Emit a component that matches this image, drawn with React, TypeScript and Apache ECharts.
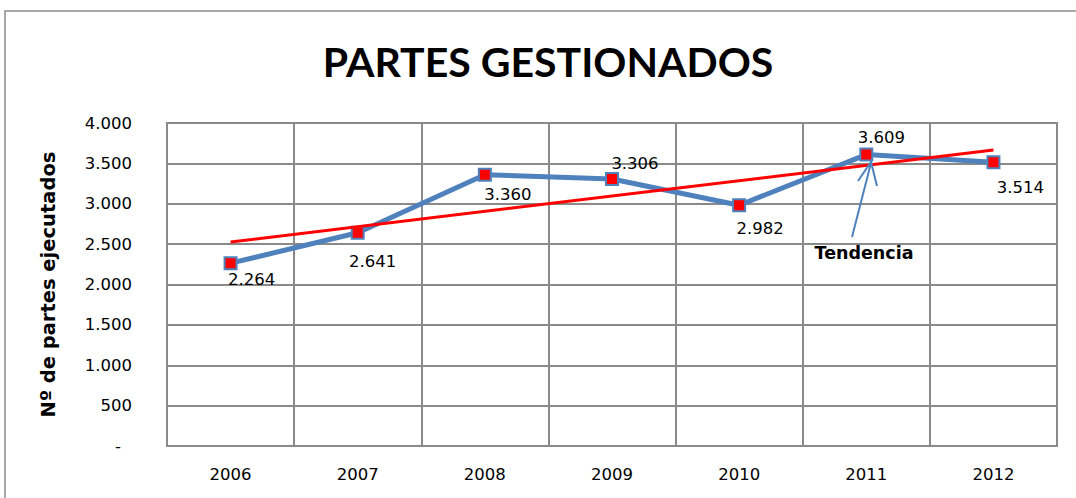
import React, { useEffect, useRef } from "react";
import * as echarts from "echarts";

const years = ["2006", "2007", "2008", "2009", "2010", "2011", "2012"];
const partes = [2264, 2641, 3360, 3306, 2982, 3609, 3514];
// trend line end points (2006 and 2012)
const trendValues = [2525, null, null, null, null, null, 3666];
const yTicks = [0, 500, 1000, 1500, 2000, 2500, 3000, 3500, 4000];
const titleText = "PARTES GESTIONADOS";
const yAxisName = "Nº de partes ejecutados";
const annotationText = "Tendencia";

// label offsets relative to the markers (style, not data)
const labelOffsets: [number, number][] = [
  [21, 16],
  [15, 29],
  [23, 20],
  [23, -16],
  [21, 23],
  [15, -17],
  [27, 25],
];

const fmt = (v: number) =>
  String(v).replace(/\B(?=(\d{3})+(?!\d))/g, ".");

const TITLE_FONT = "Lato, 'Open Sans', sans-serif";
const FONT = "'DejaVu Sans', sans-serif";
const GRID_COLOR = "#8A8A8A";
const BLUE = "#4F81BD";

export default function App() {
  const ref = useRef<HTMLDivElement>(null);

  useEffect(() => {
    if (!ref.current) return;
    const chart = echarts.init(ref.current, undefined, { renderer: "svg" });
    chart.setOption({
      animation: false,
      backgroundColor: "#ffffff",
      title: {
        text: titleText,
        left: 543,
        top: 36,
        textAlign: "center",
        textStyle: {
          fontFamily: TITLE_FONT,
          fontWeight: "bold",
          fontSize: 41,
          color: "#000",
        },
      },
      grid: {
        left: 167,
        top: 123,
        width: 890,
        height: 323,
        show: true,
        borderColor: GRID_COLOR,
        borderWidth: 2,
        backgroundColor: "transparent",
      },
      xAxis: {
        type: "category",
        data: years,
        boundaryGap: true,
        axisLine: { show: true, lineStyle: { color: GRID_COLOR, width: 2 } },
        axisTick: { show: false },
        splitLine: { show: true, lineStyle: { color: GRID_COLOR, width: 2 } },
        axisLabel: {
          margin: 20,
          color: "#000",
          fontFamily: FONT,
          fontSize: 16.5,
        },
      },
      yAxis: {
        type: "value",
        min: yTicks[0],
        max: yTicks[yTicks.length - 1],
        interval: yTicks[1] - yTicks[0],
        name: yAxisName,
        nameLocation: "middle",
        nameRotate: 90,
        nameGap: 109,
        nameTextStyle: {
          fontFamily: FONT,
          fontWeight: "bold",
          fontSize: 19.5,
          color: "#000",
        },
        axisLine: { show: false },
        axisTick: { show: false },
        splitLine: { show: true, lineStyle: { color: GRID_COLOR, width: 2 } },
        axisLabel: {
          margin: 35,
          color: "#000",
          fontFamily: FONT,
          fontSize: 16.5,
          formatter: (v: number) => (v === 0 ? "{d|-}" : fmt(v)),
          rich: {
            d: {
              fontFamily: FONT,
              fontSize: 16.5,
              color: "#000",
              padding: [0, 11, 0, 0],
            },
          },
        },
      },
      series: [
        {
          type: "line",
          name: "Partes",
          data: partes.map((v, i) => ({
            value: v,
            label: {
              show: true,
              position: "inside",
              offset: labelOffsets[i],
            },
          })),
          lineStyle: { color: BLUE, width: 5 },
          symbol: "rect",
          symbolSize: 12,
          itemStyle: { color: "#FF0000", borderColor: BLUE, borderWidth: 2 },
          label: {
            show: true,
            formatter: (p: any) => fmt(p.value),
            color: "#000",
            fontFamily: FONT,
            fontSize: 16.5,
          },
          z: 2,
        },
        {
          type: "line",
          name: "Tendencia",
          data: trendValues,
          connectNulls: true,
          symbol: "none",
          lineStyle: { color: "#FF0000", width: 3 },
          z: 3,
        },
      ],
      graphic: [
        {
          type: "rect",
          shape: { x: 5, y: 11, width: 1200, height: 700 },
          style: { fill: "none", stroke: "#8C8C8C", lineWidth: 1.5 },
          silent: true,
        },
        {
          type: "line",
          shape: { x1: 852, y1: 237, x2: 871, y2: 163 },
          style: { stroke: BLUE, lineWidth: 2 },
          z: 10,
        },
        {
          type: "polyline",
          shape: {
            points: [
              [858, 181],
              [871, 162],
              [877, 186],
            ],
          },
          style: { stroke: BLUE, lineWidth: 2, fill: "none" },
          z: 10,
        },
        {
          type: "text",
          x: 864,
          y: 253,
          style: {
            text: annotationText,
            textAlign: "center",
            textVerticalAlign: "middle",
            fontFamily: FONT,
            fontWeight: "bold",
            fontSize: 17.5,
            fill: "#000",
          },
          z: 10,
        },
      ],
    });
    return () => chart.dispose();
  }, []);

  return (
    <div
      ref={ref}
      style={{ position: "fixed", left: 0, top: 0, width: 1076, height: 498 }}
    />
  );
}
